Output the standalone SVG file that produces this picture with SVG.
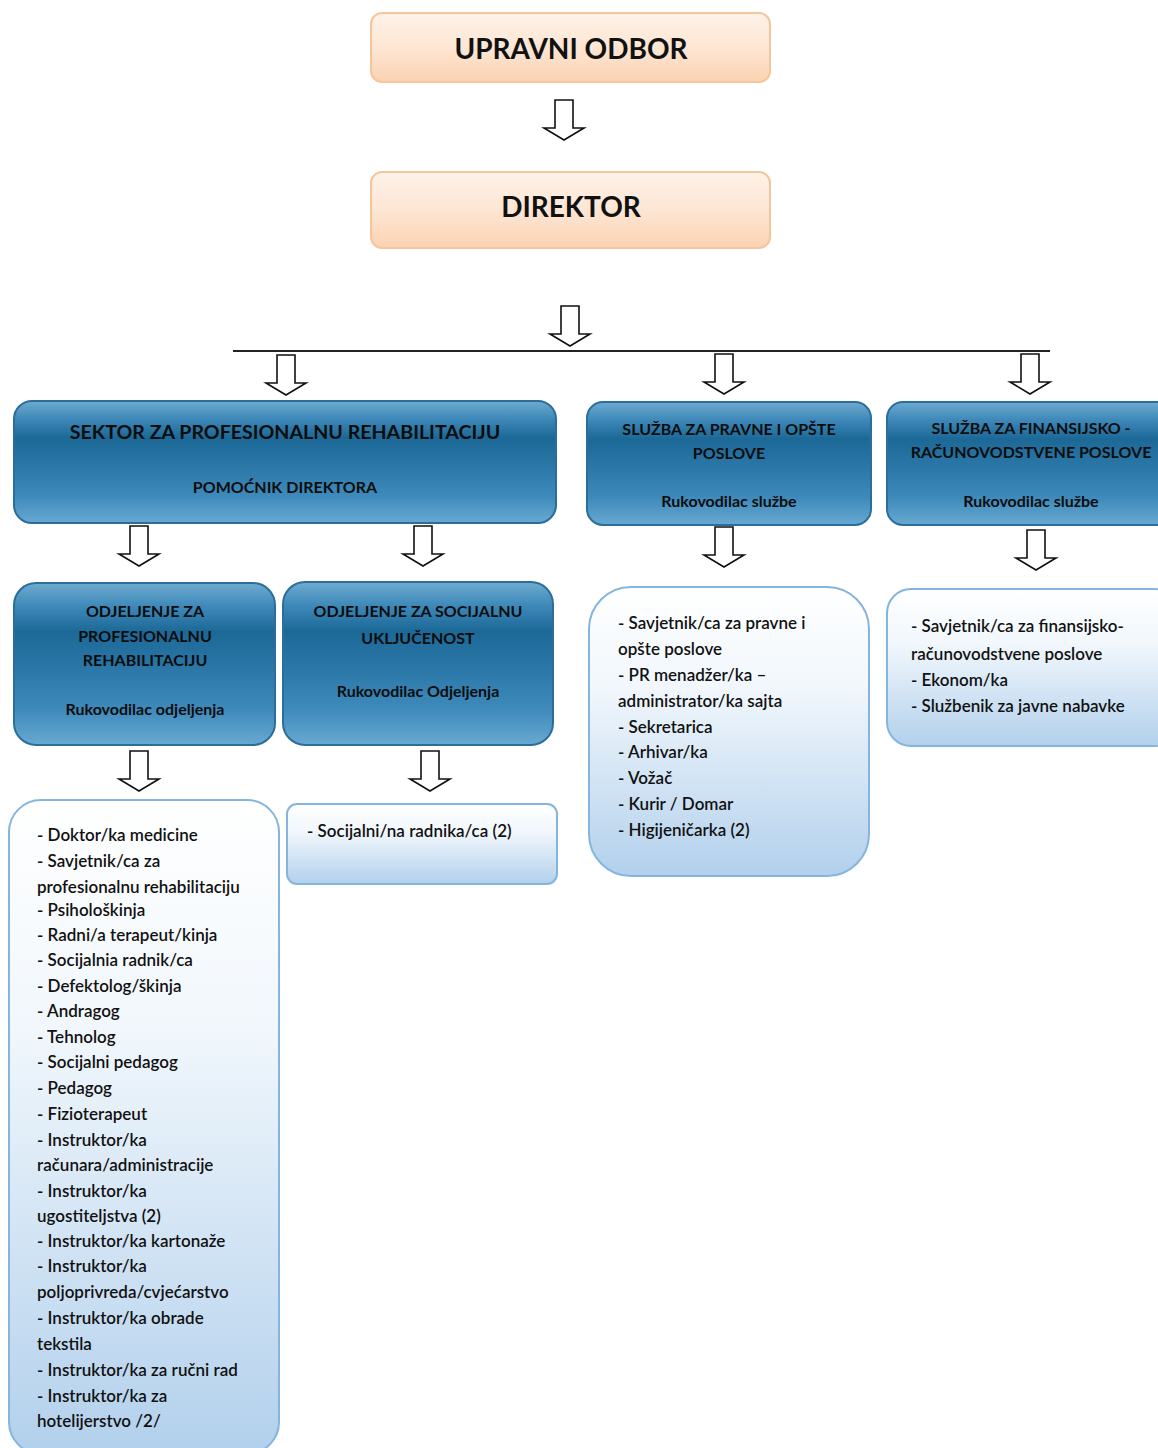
<svg xmlns="http://www.w3.org/2000/svg" width="1158" height="1448" viewBox="0 0 1158 1448">
<defs>
<linearGradient id="peach" x1="0" y1="0" x2="0" y2="1">
<stop offset="0" stop-color="#fef2e8"/>
<stop offset="0.5" stop-color="#fde6d4"/>
<stop offset="1" stop-color="#fbd2b1"/>
</linearGradient>
<linearGradient id="blue" x1="0" y1="0" x2="0" y2="1">
<stop offset="0" stop-color="#6fabd0"/>
<stop offset="0.14" stop-color="#3f8aba"/>
<stop offset="0.3" stop-color="#1c6897"/>
<stop offset="0.52" stop-color="#2a77a7"/>
<stop offset="0.78" stop-color="#3e8abb"/>
<stop offset="1" stop-color="#68a9d2"/>
</linearGradient>
<linearGradient id="pale" x1="0" y1="0" x2="0" y2="1">
<stop offset="0" stop-color="#ffffff"/>
<stop offset="0.35" stop-color="#f1f7fc"/>
<stop offset="1" stop-color="#b2d0ec"/>
</linearGradient>
<path id="arr" d="M-9,0 L9,0 L9,28 L20,28 L0,40 L-20,28 L-9,28 Z"/>
</defs>
<style>
.peach{fill:url(#peach);stroke:#f5c59b;stroke-width:2}
.blue{fill:url(#blue);stroke:#2c6e9a;stroke-width:2}
.pale{fill:url(#pale);stroke:#85b5dc;stroke-width:2}
.title{font-family:Lato,"Liberation Sans",sans-serif;font-weight:bold;fill:#111;text-anchor:middle}
.hd{font-family:Lato,"Liberation Sans",sans-serif;font-weight:bold;font-size:16px;fill:#0d0d0d;text-anchor:middle}
.big{font-size:19.6px}
.li{font-family:Lato,"Liberation Sans",sans-serif;font-weight:600;font-size:17px;fill:#111}
.ar{fill:#fff;stroke:#111;stroke-width:1.6;stroke-linejoin:miter}
</style>
<rect width="1158" height="1448" fill="#fff"/>

<g id="connectors">
<line x1="233" y1="351" x2="1050" y2="351" stroke="#222" stroke-width="2"/>
<use href="#arr" class="ar" transform="translate(564,100)"/>
<use href="#arr" class="ar" transform="translate(570,306)"/>
<use href="#arr" class="ar" transform="translate(286,355)"/>
<use href="#arr" class="ar" transform="translate(724,354)"/>
<use href="#arr" class="ar" transform="translate(1030,354)"/>
<use href="#arr" class="ar" transform="translate(139,526)"/>
<use href="#arr" class="ar" transform="translate(423,526)"/>
<use href="#arr" class="ar" transform="translate(724,527)"/>
<use href="#arr" class="ar" transform="translate(1036,530)"/>
<use href="#arr" class="ar" transform="translate(139,751)"/>
<use href="#arr" class="ar" transform="translate(430,751)"/>
</g>

<g id="upravni-odbor">
<rect class="peach" x="371" y="13" width="399" height="69" rx="11"/>
<text class="title" x="571" y="59" font-size="28">UPRAVNI ODBOR</text>
</g>

<g id="direktor">
<rect class="peach" x="371" y="172" width="399" height="76" rx="11"/>
<text class="title" x="571" y="217" font-size="28">DIREKTOR</text>
</g>

<g id="sektor">
<rect class="blue" x="14" y="401" width="542" height="122" rx="18"/>
<text class="hd big" x="285" y="439">SEKTOR ZA PROFESIONALNU REHABILITACIJU</text>
<text class="hd" x="285" y="493">POMOĆNIK DIREKTORA</text>
</g>

<g id="sluzba-pravne">
<rect class="blue" x="587" y="402" width="284" height="123" rx="16"/>
<text class="hd" x="729" y="435">SLUŽBA ZA PRAVNE I OPŠTE</text>
<text class="hd" x="729" y="459">POSLOVE</text>
<text class="hd" x="729" y="507">Rukovodilac službe</text>
</g>

<g id="sluzba-finansijsko">
<rect class="blue" x="887" y="402" width="292" height="123" rx="16"/>
<text class="hd" x="1031" y="434">SLUŽBA ZA FINANSIJSKO -</text>
<text class="hd" x="1031" y="458">RAČUNOVODSTVENE POSLOVE</text>
<text class="hd" x="1031" y="507">Rukovodilac službe</text>
</g>

<g id="odjeljenje-prof">
<rect class="blue" x="14" y="583" width="261" height="162" rx="22"/>
<text class="hd" x="145" y="617">ODJELJENJE ZA</text>
<text class="hd" x="145" y="642">PROFESIONALNU</text>
<text class="hd" x="145" y="666">REHABILITACIJU</text>
<text class="hd" x="145" y="715">Rukovodilac odjeljenja</text>
</g>

<g id="odjeljenje-soc">
<rect class="blue" x="283" y="582" width="270" height="163" rx="22"/>
<text class="hd" x="418" y="617">ODJELJENJE ZA SOCIJALNU</text>
<text class="hd" x="418" y="644">UKLJUČENOST</text>
<text class="hd" x="418" y="697">Rukovodilac Odjeljenja</text>
</g>

<g id="lista-prof">
<rect class="pale" x="9" y="800" width="270" height="654" rx="32"/>
<text class="li" x="37">
<tspan x="37" y="841">- Doktor/ka medicine</tspan>
<tspan x="37" y="867">- Savjetnik/ca za</tspan>
<tspan x="37" y="893">profesionalnu rehabilitaciju</tspan>
<tspan x="37" y="916">- Psihološkinja</tspan>
<tspan x="37" y="941">- Radni/a terapeut/kinja</tspan>
<tspan x="37" y="966">- Socijalnia radnik/ca</tspan>
<tspan x="37" y="992">- Defektolog/škinja</tspan>
<tspan x="37" y="1017">- Andragog</tspan>
<tspan x="37" y="1043">- Tehnolog</tspan>
<tspan x="37" y="1068">- Socijalni pedagog</tspan>
<tspan x="37" y="1094">- Pedagog</tspan>
<tspan x="37" y="1120">- Fizioterapeut</tspan>
<tspan x="37" y="1146">- Instruktor/ka</tspan>
<tspan x="37" y="1171">računara/administracije</tspan>
<tspan x="37" y="1197">- Instruktor/ka</tspan>
<tspan x="37" y="1222">ugostiteljstva (2)</tspan>
<tspan x="37" y="1247">- Instruktor/ka kartonaže</tspan>
<tspan x="37" y="1272">- Instruktor/ka</tspan>
<tspan x="37" y="1298">poljoprivreda/cvjećarstvo</tspan>
<tspan x="37" y="1324">- Instruktor/ka obrade</tspan>
<tspan x="37" y="1350">tekstila</tspan>
<tspan x="37" y="1376">- Instruktor/ka za ručni rad</tspan>
<tspan x="37" y="1402">- Instruktor/ka za</tspan>
<tspan x="37" y="1427">hotelijerstvo /2/</tspan>
</text>
</g>

<g id="lista-soc">
<rect class="pale" x="287" y="804" width="270" height="80" rx="10"/>
<text class="li" x="307" y="837">- Socijalni/na radnika/ca (2)</text>
</g>

<g id="lista-pravne">
<rect class="pale" x="589" y="587" width="280" height="289" rx="42"/>
<text class="li">
<tspan x="618" y="629">- Savjetnik/ca za pravne i</tspan>
<tspan x="618" y="655">opšte poslove</tspan>
<tspan x="618" y="681">- PR menadžer/ka –</tspan>
<tspan x="618" y="707">administrator/ka sajta</tspan>
<tspan x="618" y="733">- Sekretarica</tspan>
<tspan x="618" y="758">- Arhivar/ka</tspan>
<tspan x="618" y="784">- Vožač</tspan>
<tspan x="618" y="810">- Kurir / Domar</tspan>
<tspan x="618" y="836">- Higijeničarka (2)</tspan>
</text>
</g>

<g id="lista-finansijsko">
<rect class="pale" x="887" y="589" width="292" height="157" rx="24"/>
<text class="li">
<tspan x="911" y="632">- Savjetnik/ca za finansijsko-</tspan>
<tspan x="911" y="660">računovodstvene poslove</tspan>
<tspan x="911" y="686">- Ekonom/ka</tspan>
<tspan x="911" y="712">- Službenik za javne nabavke</tspan>
</text>
</g>
</svg>
